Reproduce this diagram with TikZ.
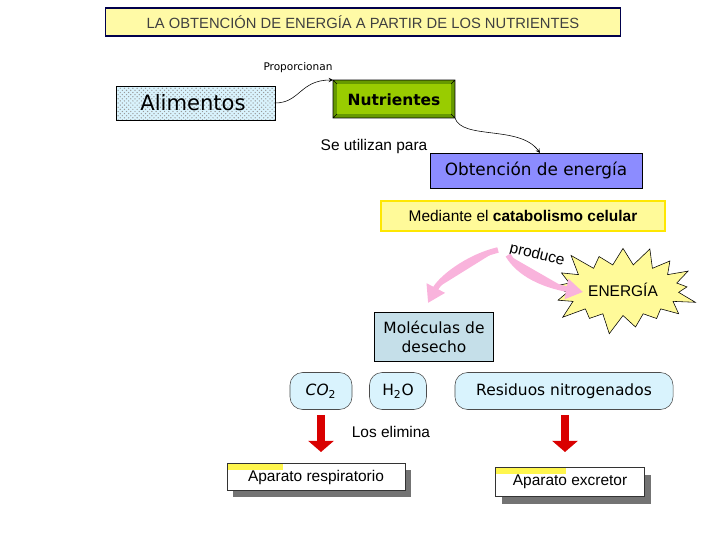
\documentclass[tikz,border=0pt]{standalone}
\usepackage{fontspec}
\setmainfont{DejaVu Sans}
\newfontfamily\arialfont{Liberation Sans}
\usetikzlibrary{shapes.misc,shapes.symbols,patterns,arrows.meta}
\definecolor{nutgreen}{RGB}{153,204,0}
\definecolor{nutdark}{RGB}{102,153,0}
\tikzset{>=stealth,
  comic/.style={font=\fontsize{11}{13}\selectfont},
  bubble/.style={draw=black!70,rounded corners=9pt,fill=cyan!15,comic},
  note/.style={draw=black!80,fill=white,font=\arialfont\fontsize{11}{13}\selectfont,inner sep=3pt,
    path picture={\fill[yellow!70] (path picture bounding box.north west) rectangle ([shift={(#1,-0.15cm)}]path picture bounding box.north west);}},
  bigred/.style={-{Triangle[length=8pt,width=18pt]},line width=6pt,red!85!black}}
\begin{document}
\begin{tikzpicture}[x=0.025cm,y=-0.025cm]
  \useasboundingbox (0,0) rectangle (728,546);
  % title
  \node[draw=blue!30!black,line width=1.2pt,fill=yellow!35,minimum width=12.875cm,minimum height=0.7cm,text=black!75,
        font=\arialfont\fontsize{10.5}{12}\selectfont] (titulo) at (363,22) {LA OBTENCIÓN DE ENERGÍA A PARTIR DE LOS NUTRIENTES};
  % first row
  \fill[cyan!15] (116,86) rectangle (275,120);
  \fill[pattern=crosshatch dots,pattern color=black!40] (116,86) rectangle (275,120);
  \draw (116,86) rectangle (275,120);
  \node[font=\fontsize{15}{17}\selectfont] (alim) at (193,103) {Alimentos};
  \fill[nutdark] (333,80) rectangle (455,118);
  \fill[nutgreen] (337,84) rectangle (451,114);
  \draw (333,80) rectangle (455,118) (333,80) -- (337,84) (455,80) -- (451,84) (333,118) -- (337,114) (455,118) -- (451,114);
  \node[font=\bfseries\fontsize{11}{13}\selectfont] (nutr) at (394,100) {Nutrientes};
  \node[font=\fontsize{7.5}{9}\selectfont] (prop) at (298,68) {Proporcionan};
  \draw[->] (275,103) .. controls (300,103) and (300,80) .. (333,80);
  \node[draw,fill=blue!45!white,minimum width=5.3cm,minimum height=0.875cm,font=\fontsize{12}{14}\selectfont] (obt) at (536,171) {Obtención de energía};
  \node[font=\arialfont\fontsize{11}{13}\selectfont] (utiliz) at (374,146) {Se utilizan para};
  \draw[->] (455,118) .. controls (462,140) and (520,125) .. (540,153);
  \node[draw=yellow!90!orange,line width=1.2pt,fill=yellow!40,minimum width=7.1cm,minimum height=0.75cm,
        font=\arialfont\fontsize{11}{13}\selectfont] (medi) at (523,216) {Mediante el \textbf{catabolismo celular}};
  % produce
  \node[starburst,starburst points=17,starburst point height=16pt,draw,fill=yellow!40,minimum width=3.4cm,minimum height=2.4cm,
        font=\arialfont\fontsize{11}{13}\selectfont] (energia) at (623,290) {ENERGÍA};
  \node[rotate=-14,font=\arialfont\fontsize{11}{13}\selectfont] (prod) at (537,255) {produce};
  \draw[-{Triangle[length=12pt,width=14pt]},line width=4pt,draw=magenta!30,fill=magenta!30] (498,250) .. controls (465,258) and (440,280) .. (428,303);
  \draw[-{Triangle[length=12pt,width=14pt]},line width=4pt,draw=magenta!30,fill=magenta!30] (508,255) .. controls (520,275) and (545,285) .. (583,292);
  \node[draw,fill=cyan!30!teal!25,minimum width=2.975cm,minimum height=1.225cm,align=center,comic] (desecho) at (434,337) {Moléculas de\\desecho};
  % residues
  \node[bubble,minimum width=1.55cm,minimum height=0.925cm] (co2) at (321,391) {\textit{CO}\textsubscript{2}};
  \node[bubble,minimum width=1.425cm,minimum height=0.925cm] (h2o) at (398,391) {H\textsubscript{2}O};
  \node[bubble,minimum width=5.45cm,minimum height=0.925cm] (resid) at (564,391) {Residuos nitrogenados};
  \coordinate (ca) at (321,452);
  \coordinate (cb) at (565,452);
  \draw[bigred] (co2.south) ++(0,5) -- (ca);
  \draw[bigred] (resid.south) ++(1,5) -- (cb);
  \node[font=\arialfont\fontsize{11}{13}\selectfont] (elim) at (391,432) {Los elimina};
  \fill[black!55] (233,470) rectangle (411,497);
  \node[note=1.4cm,minimum width=4.45cm,minimum height=0.675cm] (resp) at (316,477) {Aparato respiratorio};
  \fill[black!55] (502,475) rectangle (651,504);
  \node[note=1.75cm,minimum width=3.725cm,minimum height=0.725cm] (excr) at (570,482) {Aparato excretor};
\end{tikzpicture}
\end{document}
